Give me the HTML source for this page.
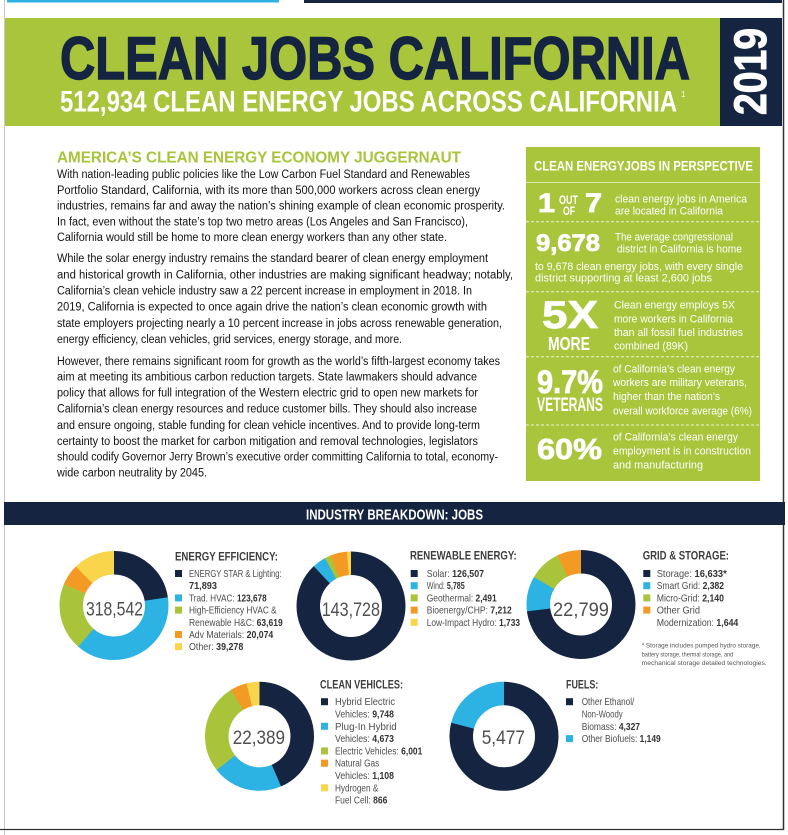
<!DOCTYPE html>
<html><head><meta charset="utf-8"><style>
html,body{margin:0;padding:0;background:#fff;}
svg{display:block;}
text{font-family:"Liberation Sans Narrow","Liberation Sans",Arial,sans-serif;}
.b{font-weight:bold;}
.body{font-size:11.5px;fill:#141213;}
.pw{font-size:11px;fill:#fff;}
.lg{font-size:10.5px;fill:#4d4d4d;}
.lg tspan.n{font-weight:bold;fill:#333;}
.lt{font-size:12px;font-weight:bold;fill:#3d3d3d;}
.cn{font-size:19.5px;fill:#4f4f4f;}
</style></head><body>
<svg width="788" height="835" viewBox="0 0 788 835" xmlns="http://www.w3.org/2000/svg">
<rect width="788" height="835" fill="#fff"/>
<!-- top strips -->
<rect x="7" y="0" width="272" height="2.5" fill="#2cb3e3"/>
<rect x="304" y="0" width="478" height="3" fill="#152440"/>
<!-- frame -->
<line x1="4.5" y1="0" x2="4.5" y2="835" stroke="#c8c8c8" stroke-width="1"/>
<line x1="783.5" y1="0" x2="783.5" y2="830" stroke="#333" stroke-width="1.5"/>
<line x1="0" y1="829.5" x2="784" y2="829.5" stroke="#333" stroke-width="1.2"/>

<!-- banner -->
<rect x="5" y="18" width="716" height="108" fill="#a9c53c"/>
<rect x="720" y="18" width="62" height="108" fill="#152440"/>
<text x="60" y="79" font-size="60" class="b" fill="#152440" stroke="#152440" stroke-width="1.4" textLength="630" lengthAdjust="spacingAndGlyphs">CLEAN JOBS CALIFORNIA</text>
<text x="60" y="111.5" font-size="30" class="b" fill="#fff" textLength="617" lengthAdjust="spacingAndGlyphs">512,934 CLEAN ENERGY JOBS ACROSS CALIFORNIA</text>
<text x="681" y="97" font-size="8" fill="#fff">1</text>
<text transform="translate(766,115) rotate(-90)" font-size="45" class="b" fill="#fff" stroke="#fff" stroke-width="1" textLength="87" lengthAdjust="spacingAndGlyphs">2019</text>

<!-- left heading -->
<text x="57" y="162.5" font-size="15.5" class="b" fill="#a8c43a" textLength="404" lengthAdjust="spacingAndGlyphs">AMERICA’S CLEAN ENERGY ECONOMY JUGGERNAUT</text>

<!-- body text -->
<g class="body">
<text x="57" y="178.1" textLength="413" lengthAdjust="spacingAndGlyphs">With nation-leading public policies like the Low Carbon Fuel Standard and Renewables</text>
<text x="57" y="193.8" textLength="423" lengthAdjust="spacingAndGlyphs">Portfolio Standard, California, with its more than 500,000 workers across clean energy</text>
<text x="57" y="209.5" textLength="448" lengthAdjust="spacingAndGlyphs">industries, remains far and away the nation’s shining example of clean economic prosperity.</text>
<text x="57" y="225.5" textLength="411" lengthAdjust="spacingAndGlyphs">In fact, even without the state’s top two metro areas (Los Angeles and San Francisco),</text>
<text x="57" y="241.1" textLength="390" lengthAdjust="spacingAndGlyphs">California would still be home to more clean energy workers than any other state.</text>

<text x="57" y="262.1" textLength="431" lengthAdjust="spacingAndGlyphs">While the solar energy industry remains the standard bearer of clean energy employment</text>
<text x="57" y="278.3" textLength="456" lengthAdjust="spacingAndGlyphs">and historical growth in California, other industries are making significant headway; notably,</text>
<text x="57" y="294.5" textLength="415" lengthAdjust="spacingAndGlyphs">California’s clean vehicle industry saw a 22 percent increase in employment in 2018. In</text>
<text x="57" y="310.7" textLength="430" lengthAdjust="spacingAndGlyphs">2019, California is expected to once again drive the nation’s clean economic growth with</text>
<text x="57" y="326.9" textLength="445" lengthAdjust="spacingAndGlyphs">state employers projecting nearly a 10 percent increase in jobs across renewable generation,</text>
<text x="57" y="343.1" textLength="345" lengthAdjust="spacingAndGlyphs">energy efficiency, clean vehicles, grid services, energy storage, and more.</text>

<text x="57" y="364.8" textLength="443" lengthAdjust="spacingAndGlyphs">However, there remains significant room for growth as the world’s fifth-largest economy takes</text>
<text x="57" y="380.6" textLength="420" lengthAdjust="spacingAndGlyphs">aim at meeting its ambitious carbon reduction targets. State lawmakers should advance</text>
<text x="57" y="396.6" textLength="421" lengthAdjust="spacingAndGlyphs">policy that allows for full integration of the Western electric grid to open new markets for</text>
<text x="57" y="412.7" textLength="420" lengthAdjust="spacingAndGlyphs">California’s clean energy resources and reduce customer bills. They should also increase</text>
<text x="57" y="428.8" textLength="423" lengthAdjust="spacingAndGlyphs">and ensure ongoing, stable funding for clean vehicle incentives. And to provide long-term</text>
<text x="57" y="444.8" textLength="421" lengthAdjust="spacingAndGlyphs">certainty to boost the market for carbon mitigation and removal technologies, legislators</text>
<text x="57" y="460.6" textLength="441" lengthAdjust="spacingAndGlyphs">should codify Governor Jerry Brown’s executive order committing California to total, economy-</text>
<text x="57" y="476.6" textLength="150" lengthAdjust="spacingAndGlyphs">wide carbon neutrality by 2045.</text>
</g>

<!-- right panel -->
<rect x="526" y="147" width="234" height="334" fill="#a9c53c"/>
<text x="534" y="170.5" font-size="13.5" class="b" fill="#fff" textLength="219" lengthAdjust="spacingAndGlyphs">CLEAN ENERGYJOBS IN PERSPECTIVE</text>
<line x1="526" y1="182.5" x2="760" y2="182.5" stroke="#d9e6a6" stroke-width="1"/>
<g stroke="#eef4d6" stroke-width="1" stroke-dasharray="3,2">
<line x1="526" y1="221.7" x2="760" y2="221.7"/>
<line x1="526" y1="291.7" x2="760" y2="291.7"/>
<line x1="526" y1="356.7" x2="760" y2="356.7"/>
<line x1="526" y1="425" x2="760" y2="425"/>
</g>
<g class="b" fill="#fff" stroke="#fff" stroke-width="0.8">
<text x="538" y="212" font-size="27" textLength="17" lengthAdjust="spacingAndGlyphs">1</text>
<text x="585" y="212" font-size="27" textLength="17" lengthAdjust="spacingAndGlyphs">7</text>
<text x="536" y="251" font-size="24" textLength="64" lengthAdjust="spacingAndGlyphs">9,678</text>
<text x="542" y="328" font-size="39" textLength="56" lengthAdjust="spacingAndGlyphs">5X</text>
<text x="537" y="393" font-size="32" textLength="66" lengthAdjust="spacingAndGlyphs">9.7%</text>
<text x="537" y="459" font-size="29" textLength="65" lengthAdjust="spacingAndGlyphs">60%</text>
</g>
<g class="b" fill="#fff">
<text x="559" y="204" font-size="11.5" textLength="19" lengthAdjust="spacingAndGlyphs">OUT</text>
<text x="563" y="215" font-size="11.5" textLength="12" lengthAdjust="spacingAndGlyphs">OF</text>
<text x="548" y="350" font-size="18" textLength="42" lengthAdjust="spacingAndGlyphs">MORE</text>
<text x="537" y="411" font-size="19" textLength="66" lengthAdjust="spacingAndGlyphs">VETERANS</text>
</g>
<g class="pw">
<text x="615" y="202.5" textLength="132" lengthAdjust="spacingAndGlyphs">clean energy jobs in America</text>
<text x="615" y="214.5" textLength="108" lengthAdjust="spacingAndGlyphs">are located in California</text>
<text x="615" y="240.5" textLength="118" lengthAdjust="spacingAndGlyphs">The average congressional</text>
<text x="617" y="252.5" textLength="125" lengthAdjust="spacingAndGlyphs">district in California is home</text>
<text x="535" y="270" textLength="208" lengthAdjust="spacingAndGlyphs">to 9,678 clean energy jobs, with every single</text>
<text x="535" y="281.5" textLength="177" lengthAdjust="spacingAndGlyphs">district supporting at least 2,600 jobs</text>
<text x="614" y="308.5" textLength="121" lengthAdjust="spacingAndGlyphs">Clean energy employs 5X</text>
<text x="614" y="322.5" textLength="119" lengthAdjust="spacingAndGlyphs">more workers in California</text>
<text x="614" y="336" textLength="129" lengthAdjust="spacingAndGlyphs">than all fossil fuel industries</text>
<text x="614" y="349.5" textLength="74" lengthAdjust="spacingAndGlyphs">combined (89K)</text>
<text x="613" y="372.5" textLength="122" lengthAdjust="spacingAndGlyphs">of California’s clean energy</text>
<text x="613" y="386" textLength="134" lengthAdjust="spacingAndGlyphs">workers are military veterans,</text>
<text x="613" y="400" textLength="107" lengthAdjust="spacingAndGlyphs">higher than the nation’s</text>
<text x="613" y="414.5" textLength="139" lengthAdjust="spacingAndGlyphs">overall workforce average (6%)</text>
<text x="613" y="440.5" textLength="125" lengthAdjust="spacingAndGlyphs">of California’s clean energy</text>
<text x="613" y="454.5" textLength="138" lengthAdjust="spacingAndGlyphs">employment is in construction</text>
<text x="613" y="468.5" textLength="90" lengthAdjust="spacingAndGlyphs">and manufacturing</text>
</g>

<!-- industry breakdown bar -->
<rect x="4" y="502" width="781" height="23" fill="#152440"/>
<text x="306" y="519.3" font-size="15" class="b" fill="#fff" textLength="177" lengthAdjust="spacingAndGlyphs">INDUSTRY BREAKDOWN: JOBS</text>

<!-- Donut 1: Energy Efficiency -->
<g fill="none" stroke-width="23.5" transform="rotate(-90 114 605.5)">
<circle cx="114" cy="605.5" r="42.75" pathLength="100" stroke="#152440" stroke-dasharray="22.7 100" stroke-dashoffset="0"/>
<circle cx="114" cy="605.5" r="42.75" pathLength="100" stroke="#2cb3e3" stroke-dasharray="38.95 100" stroke-dashoffset="-22.57"/>
<circle cx="114" cy="605.5" r="42.75" pathLength="100" stroke="#a9c43b" stroke-dasharray="20.1 100" stroke-dashoffset="-61.40"/>
<circle cx="114" cy="605.5" r="42.75" pathLength="100" stroke="#f39a24" stroke-dasharray="6.4 100" stroke-dashoffset="-81.37"/>
<circle cx="114" cy="605.5" r="42.75" pathLength="100" stroke="#f8d54a" stroke-dasharray="12.33 100" stroke-dashoffset="-87.67"/>
</g>
<text x="86" y="615.5" class="cn" textLength="57" lengthAdjust="spacingAndGlyphs">318,542</text>
<text x="175" y="560.5" class="lt" textLength="103" lengthAdjust="spacingAndGlyphs">ENERGY EFFICIENCY:</text>
<rect x="175" y="570" width="7" height="7" fill="#152440"/>
<rect x="175" y="594.4" width="7" height="7" fill="#2cb3e3"/>
<rect x="175" y="606.6" width="7" height="7" fill="#a9c43b"/>
<rect x="175" y="631" width="7" height="7" fill="#f39a24"/>
<rect x="175" y="643.2" width="7" height="7" fill="#f8d54a"/>
<g class="lg">
<text x="189" y="577" textLength="92.7" lengthAdjust="spacingAndGlyphs">ENERGY STAR &amp; Lighting:</text>
<text x="189" y="589.2" textLength="28" lengthAdjust="spacingAndGlyphs"><tspan class="n">71,893</tspan></text>
<text x="189" y="601.4" textLength="77.7" lengthAdjust="spacingAndGlyphs">Trad. HVAC: <tspan class="n">123,678</tspan></text>
<text x="189" y="613.6" textLength="87.7" lengthAdjust="spacingAndGlyphs">High-Efficiency HVAC &amp;</text>
<text x="189" y="625.8" textLength="93.7" lengthAdjust="spacingAndGlyphs">Renewable H&amp;C: <tspan class="n">63,619</tspan></text>
<text x="189" y="638" textLength="84.3" lengthAdjust="spacingAndGlyphs">Adv Materials: <tspan class="n">20,074</tspan></text>
<text x="189" y="650.2" textLength="54.3" lengthAdjust="spacingAndGlyphs">Other: <tspan class="n">39,278</tspan></text>
</g>

<!-- Donut 2: Renewable -->
<g fill="none" stroke-width="23.5" transform="rotate(-90 351 606)">
<circle cx="351" cy="606" r="42.75" pathLength="100" stroke="#152440" stroke-dasharray="88.15 100" stroke-dashoffset="0"/>
<circle cx="351" cy="606" r="42.75" pathLength="100" stroke="#2cb3e3" stroke-dasharray="4.15 100" stroke-dashoffset="-88.02"/>
<circle cx="351" cy="606" r="42.75" pathLength="100" stroke="#a9c43b" stroke-dasharray="1.86 100" stroke-dashoffset="-92.04"/>
<circle cx="351" cy="606" r="42.75" pathLength="100" stroke="#f39a24" stroke-dasharray="5.15 100" stroke-dashoffset="-93.77"/>
<circle cx="351" cy="606" r="42.75" pathLength="100" stroke="#f8d54a" stroke-dasharray="1.21 100" stroke-dashoffset="-98.79"/>
</g>
<text x="321.7" y="616" class="cn" textLength="58.3" lengthAdjust="spacingAndGlyphs">143,728</text>
<text x="410" y="559.5" class="lt" textLength="106.7" lengthAdjust="spacingAndGlyphs">RENEWABLE ENERGY:</text>
<rect x="410.7" y="570" width="7" height="7" fill="#152440"/>
<rect x="410.7" y="582.2" width="7" height="7" fill="#2cb3e3"/>
<rect x="410.7" y="594.4" width="7" height="7" fill="#a9c43b"/>
<rect x="410.7" y="606.6" width="7" height="7" fill="#f39a24"/>
<rect x="410.7" y="618.8" width="7" height="7" fill="#f8d54a"/>
<g class="lg">
<text x="426.7" y="577" textLength="57.3" lengthAdjust="spacingAndGlyphs">Solar: <tspan class="n">126,507</tspan></text>
<text x="426.7" y="589.2" textLength="38" lengthAdjust="spacingAndGlyphs">Wind: <tspan class="n">5,785</tspan></text>
<text x="426.7" y="601.4" textLength="70" lengthAdjust="spacingAndGlyphs">Geothermal: <tspan class="n">2,491</tspan></text>
<text x="426.7" y="613.6" textLength="85" lengthAdjust="spacingAndGlyphs">Bioenergy/CHP: <tspan class="n">7,212</tspan></text>
<text x="426.7" y="625.8" textLength="93.3" lengthAdjust="spacingAndGlyphs">Low-Impact Hydro: <tspan class="n">1,733</tspan></text>
</g>

<!-- Donut 3: Grid & Storage -->
<g fill="none" stroke-width="23.5" transform="rotate(-90 581 604.5)">
<circle cx="581" cy="604.5" r="42.75" pathLength="100" stroke="#152440" stroke-dasharray="73.1 100" stroke-dashoffset="0"/>
<circle cx="581" cy="604.5" r="42.75" pathLength="100" stroke="#2cb3e3" stroke-dasharray="10.6 100" stroke-dashoffset="-72.95"/>
<circle cx="581" cy="604.5" r="42.75" pathLength="100" stroke="#a9c43b" stroke-dasharray="9.5 100" stroke-dashoffset="-83.40"/>
<circle cx="581" cy="604.5" r="42.75" pathLength="100" stroke="#f39a24" stroke-dasharray="7.21 100" stroke-dashoffset="-92.79"/>
</g>
<text x="553" y="616" class="cn" textLength="56" lengthAdjust="spacingAndGlyphs">22,799</text>
<text x="642.7" y="559.5" class="lt" textLength="86.3" lengthAdjust="spacingAndGlyphs">GRID &amp; STORAGE:</text>
<rect x="643.3" y="570" width="7" height="7" fill="#152440"/>
<rect x="643.3" y="582.2" width="7" height="7" fill="#2cb3e3"/>
<rect x="643.3" y="594.4" width="7" height="7" fill="#a9c43b"/>
<rect x="643.3" y="606.6" width="7" height="7" fill="#f39a24"/>
<g class="lg">
<text x="656.7" y="577" textLength="70" lengthAdjust="spacingAndGlyphs">Storage: <tspan class="n">16,633*</tspan></text>
<text x="656.7" y="589.2" textLength="67.3" lengthAdjust="spacingAndGlyphs">Smart Grid: <tspan class="n">2,382</tspan></text>
<text x="656.7" y="601.4" textLength="67.3" lengthAdjust="spacingAndGlyphs">Micro-Grid: <tspan class="n">2,140</tspan></text>
<text x="656.7" y="613.6" textLength="43.3" lengthAdjust="spacingAndGlyphs">Other Grid</text>
<text x="656.7" y="625.8" textLength="81.6" lengthAdjust="spacingAndGlyphs">Modernization: <tspan class="n">1,644</tspan></text>
</g>
<g font-size="6.5" fill="#555">
<text x="641.7" y="647.3" textLength="119" lengthAdjust="spacingAndGlyphs">* Storage includes pumped hydro storage,</text>
<text x="641.7" y="656.3" textLength="91.6" lengthAdjust="spacingAndGlyphs">battery storage, thermal storage, and</text>
<text x="641.7" y="665" textLength="125" lengthAdjust="spacingAndGlyphs">mechanical storage detailed technologies.</text>
</g>

<!-- Donut 4: Clean Vehicles -->
<g fill="none" stroke-width="23.5" transform="rotate(-90 259.5 736.3)">
<circle cx="259.5" cy="736.3" r="42.75" pathLength="100" stroke="#152440" stroke-dasharray="43.65 100" stroke-dashoffset="0"/>
<circle cx="259.5" cy="736.3" r="42.75" pathLength="100" stroke="#2cb3e3" stroke-dasharray="21 100" stroke-dashoffset="-43.53"/>
<circle cx="259.5" cy="736.3" r="42.75" pathLength="100" stroke="#a9c43b" stroke-dasharray="26.9 100" stroke-dashoffset="-64.40"/>
<circle cx="259.5" cy="736.3" r="42.75" pathLength="100" stroke="#f39a24" stroke-dasharray="5.05 100" stroke-dashoffset="-91.20"/>
<circle cx="259.5" cy="736.3" r="42.75" pathLength="100" stroke="#f8d54a" stroke-dasharray="3.85 100" stroke-dashoffset="-96.15"/>
</g>
<text x="232.7" y="744" class="cn" textLength="52.3" lengthAdjust="spacingAndGlyphs">22,389</text>
<text x="320" y="688.5" class="lt" textLength="83" lengthAdjust="spacingAndGlyphs">CLEAN VEHICLES:</text>
<rect x="321" y="698.2" width="7" height="7" fill="#152440"/>
<rect x="321" y="722.8" width="7" height="7" fill="#2cb3e3"/>
<rect x="321" y="747.4" width="7" height="7" fill="#a9c43b"/>
<rect x="321" y="759.7" width="7" height="7" fill="#f39a24"/>
<rect x="321" y="784.3" width="7" height="7" fill="#f8d54a"/>
<g class="lg">
<text x="335" y="705.2" textLength="60" lengthAdjust="spacingAndGlyphs">Hybrid Electric</text>
<text x="335" y="717.5" textLength="59" lengthAdjust="spacingAndGlyphs">Vehicles: <tspan class="n">9,748</tspan></text>
<text x="335" y="729.8" textLength="61.7" lengthAdjust="spacingAndGlyphs">Plug-In Hybrid</text>
<text x="335" y="742.1" textLength="59" lengthAdjust="spacingAndGlyphs">Vehicles: <tspan class="n">4,673</tspan></text>
<text x="335" y="754.4" textLength="87.3" lengthAdjust="spacingAndGlyphs">Electric Vehicles: <tspan class="n">6,001</tspan></text>
<text x="335" y="766.7" textLength="44.3" lengthAdjust="spacingAndGlyphs">Natural Gas</text>
<text x="335" y="779" textLength="59" lengthAdjust="spacingAndGlyphs">Vehicles: <tspan class="n">1,108</tspan></text>
<text x="335" y="791.3" textLength="43.3" lengthAdjust="spacingAndGlyphs">Hydrogen &amp;</text>
<text x="335" y="803.6" textLength="52.3" lengthAdjust="spacingAndGlyphs">Fuel Cell: <tspan class="n">866</tspan></text>
</g>

<!-- Donut 5: Fuels -->
<g fill="none" stroke-width="23.5" transform="rotate(-90 504 736.3)">
<circle cx="504" cy="736.3" r="42.75" pathLength="100" stroke="#152440" stroke-dasharray="79.1 100" stroke-dashoffset="0"/>
<circle cx="504" cy="736.3" r="42.75" pathLength="100" stroke="#2cb3e3" stroke-dasharray="21 100" stroke-dashoffset="-79"/>
</g>
<text x="481.7" y="744" class="cn" textLength="43.3" lengthAdjust="spacingAndGlyphs">5,477</text>
<text x="566" y="688.3" class="lt" textLength="32.3" lengthAdjust="spacingAndGlyphs">FUELS:</text>
<rect x="566" y="698.2" width="7" height="7" fill="#152440"/>
<rect x="566" y="735.1" width="7" height="7" fill="#2cb3e3"/>
<g class="lg">
<text x="581.7" y="705.2" textLength="52.6" lengthAdjust="spacingAndGlyphs">Other Ethanol/</text>
<text x="581.7" y="717.5" textLength="41" lengthAdjust="spacingAndGlyphs">Non-Woody</text>
<text x="581.7" y="729.8" textLength="58.3" lengthAdjust="spacingAndGlyphs">Biomass: <tspan class="n">4,327</tspan></text>
<text x="581.7" y="742.1" textLength="79" lengthAdjust="spacingAndGlyphs">Other Biofuels: <tspan class="n">1,149</tspan></text>
</g>
</svg>
</body></html>
